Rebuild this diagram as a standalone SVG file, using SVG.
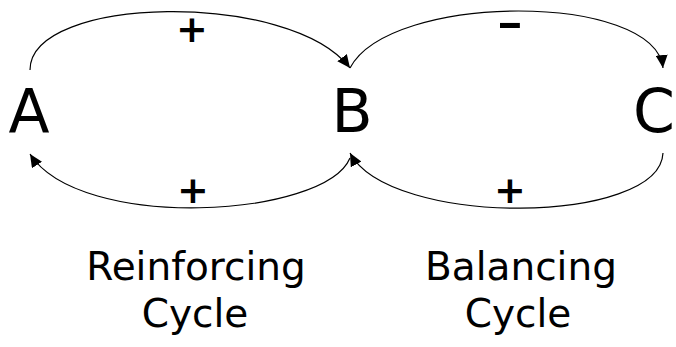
<svg xmlns="http://www.w3.org/2000/svg" width="676" height="347" viewBox="0 0 676 347">
  <style>
    .node { font-family: "DejaVu Sans", "Liberation Sans", sans-serif; font-size: 60px; fill: #000; text-anchor: middle; }
    .sign { font-family: "DejaVu Sans", "Liberation Sans", sans-serif; font-weight: bold; font-size: 38px; fill: #000; text-anchor: middle; }
    .label { font-family: "DejaVu Sans", "Liberation Sans", sans-serif; font-size: 39px; fill: #000; text-anchor: middle; }
    .link { fill: none; stroke: #000; stroke-width: 1.2; marker-end: url(#arrow); }
  </style>
  <defs>
    <marker id="arrow" markerUnits="userSpaceOnUse" markerWidth="14" markerHeight="12" refX="13" refY="6" orient="auto">
      <path d="M0,0 L13,6 L0,12 Z" fill="#000"/>
    </marker>
  </defs>
  <g id="connectors">
    <path class="link" d="M30,70 C30,-5 290,-10 350,68"/>
    <path class="link" d="M350,68 C390,-8 655,-8 663,68"/>
    <path class="link" d="M350,158 C325,218 80,232 30,154"/>
    <path class="link" d="M663,153 C660,225 390,228 350,153"/>
  </g>
  <g id="signs">
    <text class="sign" x="192" y="42">+</text>
    <text class="sign" transform="translate(510,36) scale(1.8,1)" x="0" y="0" style="font-size:36px">-</text>
    <text class="sign" x="193" y="203">+</text>
    <text class="sign" x="510" y="203">+</text>
  </g>
  <g id="node-A"><text class="node" x="29" y="132">A</text></g>
  <g id="node-B"><text class="node" x="352" y="132">B</text></g>
  <g id="node-C"><text class="node" x="675" y="132" style="text-anchor:end">C</text></g>
  <g id="label-reinforcing">
    <text class="label" x="196" y="280">Reinforcing</text>
    <text class="label" x="195" y="327">Cycle</text>
  </g>
  <g id="label-balancing">
    <text class="label" x="521" y="280">Balancing</text>
    <text class="label" x="518" y="327">Cycle</text>
  </g>
</svg>
